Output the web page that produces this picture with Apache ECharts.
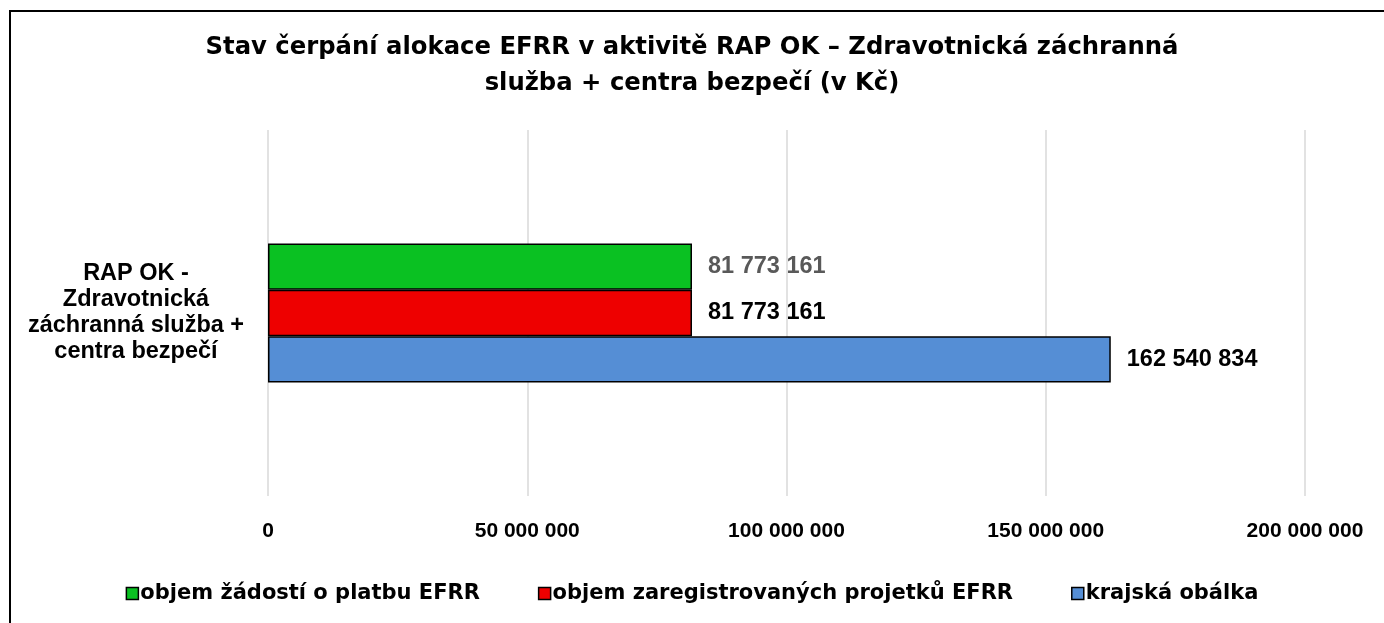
<!DOCTYPE html>
<html>
<head>
<meta charset="utf-8">
<script src="https://cdn.jsdelivr.net/npm/echarts@6/dist/echarts.min.js"></script>
<style>
  html, body { margin: 0; padding: 0; background: #fff; }
  #chart { width: 1384px; height: 623px; }
</style>
</head>
<body>
<div id="chart"></div>
<script>
// data
const categories = ["RAP OK -\nZdravotnická\nzáchranná služba +\ncentra bezpečí"];
const seriesNames = ["objem žádostí o platbu EFRR", "objem zaregistrovaných projetků EFRR", "krajská obálka"];
const zadostiValues = [81773161];
const registraceValues = [81773161];
const obalkaValues = [162540834];
const axisMin = 0;
const axisMax = 200000000;
const axisStep = 50000000;

const font = "'Liberation Sans', Arial, sans-serif";
const wideFont = "'DejaVu Sans', sans-serif";

function fmt(v) {
  return String(Math.round(v)).replace(/\B(?=(\d{3})+(?!\d))/g, " ");
}

const chart = echarts.init(document.getElementById("chart"));

function barSeries(name, data, color, labelColor) {
  return {
    name: name,
    type: "bar",
    data: data,
    barGap: 0,
    barCategoryGap: "62%",
    itemStyle: { color: color, borderColor: "#000", borderWidth: 1.5 },
    label: {
      show: true,
      position: "right",
      distance: 16,
      color: labelColor,
      fontFamily: font,
      fontWeight: "bold",
      fontSize: 23.5,
      formatter: p => fmt(p.value)
    }
  };
}

chart.setOption({
  backgroundColor: "#fff",
  animation: false,
  textStyle: { fontFamily: font },
  title: {
    text: "Stav čerpání alokace EFRR v aktivitě RAP OK – Zdravotnická záchranná\nslužba + centra bezpečí (v Kč)",
    left: "center",
    top: 25,
    textStyle: { fontFamily: wideFont, fontWeight: "bold", fontSize: 24.3, color: "#000", lineHeight: 36 }
  },
  graphic: [
    {
      type: "rect",
      shape: { x: 10, y: 11, width: 1500, height: 800 },
      style: { fill: "none", stroke: "#000", lineWidth: 2 },
      silent: true
    }
  ],
  legend: {
    data: seriesNames,
    bottom: 14,
    left: "center",
    itemWidth: 12,
    itemHeight: 12,
    itemGap: 58,
    icon: "rect",
    itemStyle: { borderColor: "#000", borderWidth: 1.5 },
    textStyle: { fontFamily: wideFont, fontWeight: "bold", fontSize: 21, color: "#000", padding: [0, 0, 0, -3] }
  },
  grid: { left: 268, right: 79, top: 130, bottom: 127, containLabel: false },
  xAxis: {
    type: "value",
    min: axisMin,
    max: axisMax,
    interval: axisStep,
    axisLine: { show: false },
    axisTick: { show: false },
    splitLine: { show: true, lineStyle: { color: "#d9d9d9", width: 1.5 } },
    axisLabel: {
      margin: 25,
      color: "#000",
      fontFamily: font,
      fontWeight: "bold",
      fontSize: 21,
      formatter: v => fmt(v)
    }
  },
  yAxis: {
    type: "category",
    data: categories,
    axisLine: { show: false },
    axisTick: { show: false },
    axisLabel: {
      margin: 132,
      align: "center",
      color: "#000",
      fontFamily: font,
      fontWeight: "bold",
      fontSize: 23.5,
      lineHeight: 26
    }
  },
  series: [
    barSeries(seriesNames[0], zadostiValues, "#0ac122", "#595959"),
    barSeries(seriesNames[1], registraceValues, "#ee0000", "#000"),
    barSeries(seriesNames[2], obalkaValues, "#558ed5", "#000")
  ]
});
</script>
</body>
</html>
